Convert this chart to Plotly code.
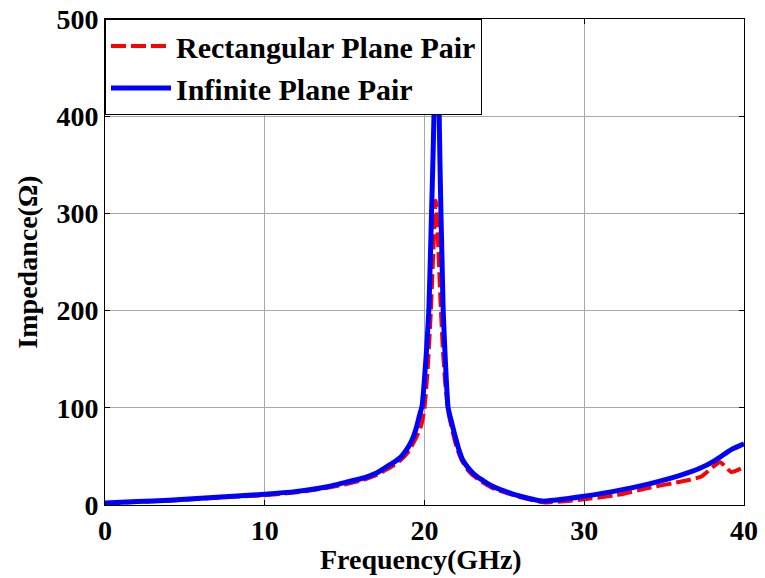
import plotly.graph_objects as go

# Rectangular plane pair (red dashed)
rect_freq = [0, 2, 4, 6, 8, 10, 12, 14, 15, 16, 17, 18, 18.5, 19, 19.5, 19.8, 20, 20.2, 20.4, 20.55,
             20.7, 20.85, 21.0, 21.15, 21.3, 21.5, 21.75, 22.0, 22.3, 22.7, 23.3, 24.3, 25.4, 26.5, 27.5,
             28, 29, 30, 32, 34, 36, 37.3, 38.5, 39.2, 40]
rect_imp = [1.5, 3, 4.5, 6.5, 8.5, 10, 13, 18, 21, 25, 31, 40, 46, 55, 70, 82, 100, 140, 200, 260,
            313, 270, 210, 160, 125, 95, 76, 60, 47, 36, 27, 17, 11, 6, 2.5,
            3, 4, 6, 10, 17.5, 24, 29, 44, 34, 39]

# Infinite plane pair (blue solid)
inf_freq = [0, 2, 4, 6, 8, 10, 12, 14, 15, 16, 17, 17.5, 18, 18.5, 19, 19.3, 19.5, 19.7, 19.85, 20,
            20.13, 20.27, 20.36, 20.44, 20.52, 20.59, 20.66, 20.75, 20.84, 20.92, 20.97, 21.03, 21.1,
            21.17, 21.3, 21.48, 21.65, 21.9, 22.15, 22.4, 22.8, 23.3, 24.3, 25.4, 26, 27.4, 28.9, 30,
            32, 34, 36, 37.2, 38.2, 39.2, 40]
inf_imp = [2, 3.5, 5, 7, 9, 11, 14, 19, 23, 27, 33, 38, 43, 49, 60, 70, 80, 93, 102, 130,
           160, 200, 250, 300, 350, 400, 500, 620, 500, 400, 350, 300, 250,
           200, 150, 100, 88, 72, 57, 46, 37, 29, 19, 12, 9, 4, 6.5, 9,
           14.5, 21.5, 30.5, 37.5, 46, 57, 63]

x_ticks = [0, 10, 20, 30, 40]
y_ticks = [0, 100, 200, 300, 400, 500]

x_title = "Frequency(GHz)"
y_title = "Impedance(Ω)"

FONT = "Liberation Serif, Times New Roman, serif"

fig = go.Figure()
fig.add_trace(go.Scatter(x=rect_freq, y=rect_imp, mode="lines", name="<b>Rectangular Plane Pair</b>",
                         line=dict(color="#ff0000", width=4, dash="15px,5px", shape="spline", smoothing=0.5),
                         legendgroup="a"))
fig.add_trace(go.Scatter(x=inf_freq, y=inf_imp, mode="lines", name="<b>Infinite Plane Pair</b>",
                         line=dict(color="#0000ff", width=5, shape="spline", smoothing=0.5),
                         legendgroup="b"))

axis_common = dict(showgrid=True, gridcolor="#a8a8a8", gridwidth=1,
                   showline=True, linecolor="black", linewidth=1, mirror="ticks",
                   ticks="inside", ticklen=5, tickcolor="black", zeroline=False,
                   automargin=False,
                   tickfont=dict(family=FONT, size=28, color="black"))

fig.update_xaxes(range=[0, 40], tickvals=x_ticks, ticktext=[f"<b>{t}</b>" for t in x_ticks],
                 ticklabelstandoff=0, **axis_common)
fig.update_yaxes(range=[0, 500], tickvals=y_ticks, ticktext=[f"<b>{t}</b>" for t in y_ticks],
                 title=dict(text=f"<b>{y_title}</b>", font=dict(family=FONT, size=28, color="black"),
                            standoff=10),
                 **axis_common)

fig.add_annotation(text=f"<b>{x_title}</b>", xref="paper", yref="paper", x=0.494, y=-0.112,
                   xanchor="center", yanchor="middle", showarrow=False,
                   font=dict(family=FONT, size=28, color="black"))

fig.update_layout(
    width=765, height=578,
    margin=dict(l=105, r=21, t=19, b=73),
    paper_bgcolor="white", plot_bgcolor="white",
    showlegend=True,
    legend=dict(x=0, y=1, xanchor="left", yanchor="top", bgcolor="white",
                bordercolor="black", borderwidth=1,
                font=dict(family=FONT, size=30, color="black"),
                traceorder="grouped", tracegroupgap=0, itemwidth=60),
)

fig.write_html("out.html")
